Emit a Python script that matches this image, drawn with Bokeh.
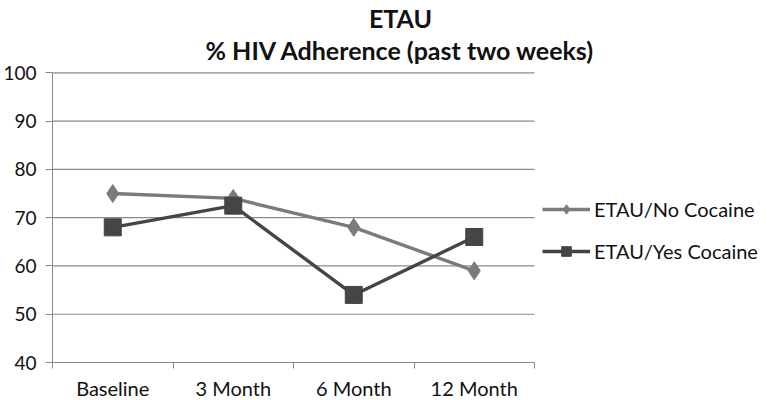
from bokeh.plotting import figure
from bokeh.models import (Range1d, LinearAxis, FixedTicker, Legend,
                          LegendItem, ColumnDataSource, Label)
from bokeh.embed import file_html
from bokeh.resources import INLINE

categories = ["Baseline", "3 Month", "6 Month", "12 Month"]
no_cocaine = [75, 74, 68, 59]
yes_cocaine = [68, 72.5, 54, 66]
y_ticks = [40, 50, 60, 70, 80, 90, 100]
series_names = ["ETAU/No Cocaine", "ETAU/Yes Cocaine"]
title_lines = ["ETAU", "% HIV Adherence (past two weeks)"]

FONT = "Lato"
GRID = "#8a8a8a"
C_NO = "#7b7b7b"
C_YES = "#454545"

n = len(categories)
centers = [i + 0.5 for i in range(n)]
edges = list(range(n + 1))

# The frame covers the whole canvas right of the y axis so that the title and
# legend can sit inside it; axes and grid lines are bounded to the plot area.
FW, PLOT_W = 715, 482
p = figure(frame_width=FW, frame_height=362, output_backend="svg",
           toolbar_location=None,
           x_range=Range1d(0, n * FW / PLOT_W), y_range=Range1d(40, 115),
           min_border_left=49, min_border_right=0, min_border_top=0,
           min_border_bottom=36, x_axis_location=None, y_axis_location=None)
p.outline_line_color = None
p.background_fill_color = "white"
p.border_fill_color = "white"
p.xgrid.grid_line_color = None
p.ygrid.grid_line_color = None

# horizontal grid lines, limited to the category span
p.segment(x0=[0] * len(y_ticks), x1=[n] * len(y_ticks), y0=y_ticks, y1=y_ticks,
          line_color=GRID, line_width=1.2)

# title (two centred lines)
for txt, yy in zip(title_lines, [345, 313]):
    p.add_layout(Label(x=348, y=yy, x_units="screen", y_units="screen",
                       text=txt, text_align="center",
                       text_baseline="alphabetic", text_font=FONT,
                       text_font_size="25px", text_font_style="bold",
                       text_color="#111111"))

# y axis
yax = LinearAxis(ticker=FixedTicker(ticks=y_ticks), bounds=(40, 100))
yax.axis_line_color = GRID
yax.major_tick_line_color = GRID
yax.major_tick_out = 7
yax.major_tick_in = 0
yax.minor_tick_line_color = None
yax.major_label_text_font = FONT
yax.major_label_text_font_size = "19px"
yax.major_label_text_color = "#111111"
yax.major_label_standoff = 9
p.add_layout(yax, "left")

# x axis: labels at category centres, tick marks at category edges
xax = LinearAxis(ticker=FixedTicker(ticks=centers, minor_ticks=edges),
                 bounds=(0, n))
xax.major_label_overrides = {c: cat for c, cat in zip(centers, categories)}
xax.axis_line_color = GRID
xax.major_tick_line_color = None
xax.minor_tick_line_color = GRID
xax.minor_tick_out = 6
xax.minor_tick_in = 0
xax.major_label_text_font = FONT
xax.major_label_text_font_size = "20px"
xax.major_label_text_color = "#111111"
xax.major_label_standoff = 7
p.add_layout(xax, "below")

src = ColumnDataSource(dict(x=centers, no=no_cocaine, yes=yes_cocaine))

l1 = p.line("x", "no", source=src, line_color=C_NO, line_width=3.4)
m1 = p.scatter("x", "no", source=src, marker="diamond", size=18,
               fill_color=C_NO, line_color=C_NO)
l2 = p.line("x", "yes", source=src, line_color=C_YES, line_width=3.4)
m2 = p.scatter("x", "yes", source=src, marker="square", size=17,
               fill_color=C_YES, line_color=C_YES)

legend = Legend(items=[LegendItem(label=series_names[0], renderers=[l1, m1]),
                       LegendItem(label=series_names[1], renderers=[l2, m2])],
                location=(490, 99))
legend.label_text_font = FONT
legend.label_text_font_size = "20px"
legend.label_text_color = "#111111"
legend.glyph_width = 48
legend.glyph_height = 24
legend.spacing = 18
legend.border_line_color = None
legend.background_fill_alpha = 0
legend.padding = 6
legend.margin = 0
legend.label_standoff = 4
p.add_layout(legend, "center")

open("out.html", "w").write(file_html(p, INLINE))
